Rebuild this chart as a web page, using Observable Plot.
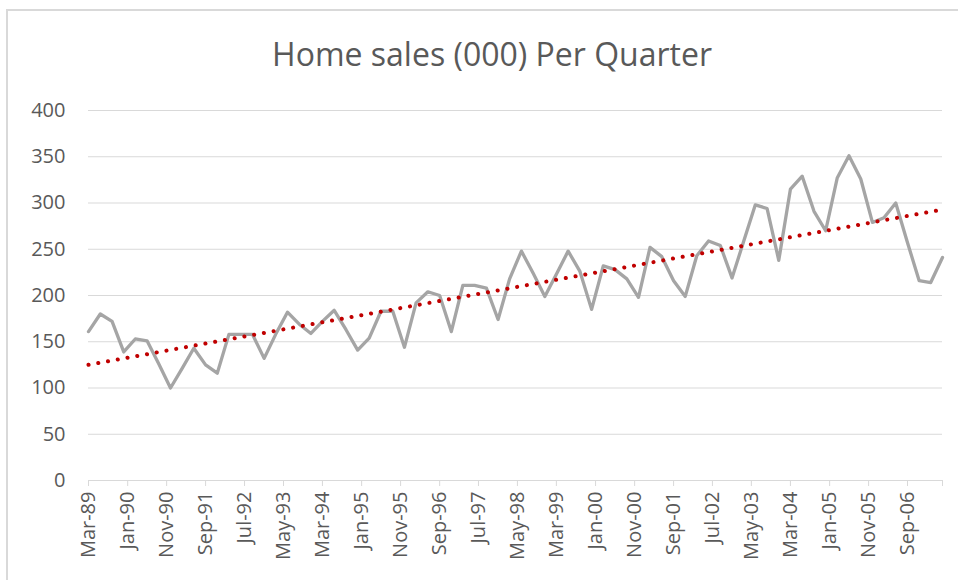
<!DOCTYPE html>
<html>
<head>
<meta charset="utf-8">
<script src="https://cdn.jsdelivr.net/npm/d3@7"></script>
<script src="https://cdn.jsdelivr.net/npm/@observablehq/plot@0.6"></script>
<style>
  html, body { margin: 0; padding: 0; background: #fff; }
  #wrap { position: relative; width: 958px; height: 580px; overflow: hidden; }
  #frame { position: absolute; left: 6px; top: 9px; width: 1000px; height: 600px;
           border-top: 2px solid #d9d9d9; border-left: 2px solid #d9d9d9; box-sizing: border-box; }
  #title { position: absolute; left: 0; top: 38px; width: 958px; padding-left: 26px; box-sizing: border-box;
           text-align: center; font-family: "Open Sans", sans-serif; font-size: 32px; line-height: 32px;
           color: #595959; }
  #chart { position: absolute; left: 0; top: 0; }
</style>
</head>
<body>
<div id="wrap">
  <div id="frame"></div>
  <div id="chart"></div>
  <div id="title">Home sales (000) Per Quarter</div>
</div>
<script>
// Quarterly home sales (thousands), Mar-89 .. Jun-07
const firstQuarter = "1989-03";
const sales = [
  161, 180, 172, 139,   // 1989
  153, 151, 126, 100,   // 1990
  121, 143, 125, 116,   // 1991
  158, 158, 158, 132,   // 1992
  158, 182, 169, 159,   // 1993
  172, 184, 163, 141,   // 1994
  154, 183, 183, 144,   // 1995
  192, 204, 200, 161,   // 1996
  211, 211, 208, 174,   // 1997
  218, 248, 224, 199,   // 1998
  223, 248, 226, 185,   // 1999
  232, 228, 218, 198,   // 2000
  252, 242, 216, 199,   // 2001
  243, 259, 254, 219,   // 2002
  258, 298, 294, 238,   // 2003
  315, 329, 291, 270,   // 2004
  327, 351, 326, 279,   // 2005
  284, 300, 257, 216,   // 2006
  214, 241              // 2007
];
const xTickLabels = ["Mar-89","Jan-90","Nov-90","Sep-91","Jul-92","May-93","Mar-94","Jan-95","Nov-95",
  "Sep-96","Jul-97","May-98","Mar-99","Jan-00","Nov-00","Sep-01","Jul-02","May-03","Mar-04","Jan-05",
  "Nov-05","Sep-06"];
const yTicks = [0, 50, 100, 150, 200, 250, 300, 350, 400];

const start = d3.utcParse("%Y-%m")(firstQuarter);
const data = sales.map((v, i) => ({date: d3.utcMonth.offset(start, 3 * i), value: v}));
const parseLabel = d3.utcParse("%b-%y");
const tickDates = xTickLabels.map(parseLabel);
const lastDate = data[data.length - 1].date;
const allTicks = [...tickDates, lastDate];
const fmt = d3.utcFormat("%b-%y");

const font = '"Open Sans", sans-serif';
const chart = Plot.plot({
  width: 958,
  height: 580,
  marginTop: 110,
  marginBottom: 100,
  marginLeft: 88,
  marginRight: 16,
  style: {fontFamily: font, fontSize: "20px", background: "transparent", color: "#595959"},
  x: {type: "utc", domain: [start, lastDate]},
  y: {domain: [0, 400]},
  marks: [
    Plot.gridY(yTicks.slice(1), {stroke: "#d9d9d9", strokeOpacity: 1, strokeWidth: 1}),
    Plot.ruleY([0], {stroke: "#d9d9d9", strokeWidth: 1.2}),
    Plot.axisY({ticks: yTicks, tickSize: 0, tickPadding: 23, fill: "#595959", fontSize: 20, label: null}),
    Plot.axisX({ticks: allTicks, tickFormat: d => (+d === +lastDate ? "" : fmt(d)), tickRotate: -90,
      tickSize: 6, tickPadding: 5, stroke: "#d9d9d9", fill: "#595959", fontSize: 20, label: null}),
    Plot.line(data, {x: "date", y: "value", stroke: "#a5a5a5", strokeWidth: 3.3, strokeLinejoin: "round"}),
    Plot.linearRegressionY(data, {x: "date", y: "value", ci: 0, stroke: "#c00000", strokeWidth: 4,
      strokeDasharray: "0.1 9.8", strokeLinecap: "round"})
  ]
});
document.getElementById("chart").appendChild(chart);
</script>
</body>
</html>
